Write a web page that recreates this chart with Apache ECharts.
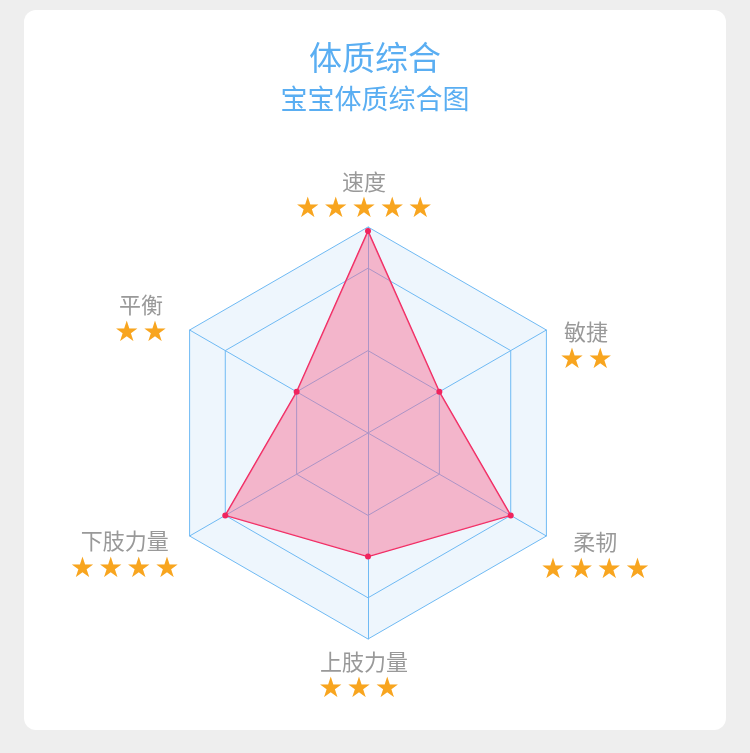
<!DOCTYPE html>
<html>
<head>
<meta charset="utf-8">
<script src="https://cdn.jsdelivr.net/npm/echarts@6/dist/echarts.min.js"></script>
<style>
html,body{margin:0;padding:0;background:#eeeeee;}
#chart{width:750px;height:753px;}
</style>
</head>
<body>
<div id="chart"></div>
<script>
var indicatorNames = ['速度', '平衡', '下肢力量', '上肢力量', '柔韧', '敏捷'];
var indicatorMax = 5;
var values = [4.9, 2, 4, 3, 4, 2];
var starCounts = [5, 2, 4, 3, 4, 2];
var titleText = '体质综合';
var subtitleText = '宝宝体质综合图';

var chart = echarts.init(document.getElementById('chart'));
var FONT = '"Noto Sans CJK SC", "Noto Sans", sans-serif';

// per-indicator label layout tweaks (layout only)
var nameHPad = [[0, 8, 0, 0], [0, 30, 0, 0], [0, 18, 0, 0], [0, 8, 0, 0], [0, 0, 0, 2], [0, 0, 0, 21]];
var starHPad = [[0, 8, 0, 0], [0, 30, 0, 0], [0, 18, 0, 0], [0, 18, 0, 0], [0, 0, 0, 2], [0, 0, 0, 21]];
var spaceTop = [0, 0, 43, 18, 45, 21];
var spaceBottom = [16, 33, 0, 0, 0, 0];

function starsFor(i) {
  var arr = [];
  for (var k = 0; k < starCounts[i]; k++) arr.push('★');
  return arr.join(' ');
}

var rich = {};
indicatorNames.forEach(function (n, i) {
  rich['n' + i] = { color: '#999999', fontSize: 22, fontFamily: FONT, align: 'center', lineHeight: 25, padding: nameHPad[i] };
  rich['s' + i] = { color: '#f8a51f', fontSize: 23, fontFamily: FONT, align: 'center', lineHeight: 25, padding: starHPad[i] };
  rich['t' + i] = { fontSize: 1, lineHeight: spaceTop[i], align: 'center' };
  rich['b' + i] = { fontSize: 1, lineHeight: spaceBottom[i], align: 'center' };
});

var option = {
  backgroundColor: '#eeeeee',
  graphic: [{
    type: 'rect', z: -10, silent: true,
    shape: { x: 24, y: 10, width: 702, height: 720, r: 12 },
    style: { fill: '#ffffff' }
  }],
  title: {
    text: titleText,
    subtext: subtitleText,
    left: 'center',
    top: 36,
    itemGap: 11,
    textStyle: { color: '#5aaef2', fontSize: 33, fontWeight: 'normal', fontFamily: FONT },
    subtextStyle: { color: '#5aaef2', fontSize: 27, fontFamily: FONT }
  },
  radar: [{
    center: [368, 433],
    radius: 206,
    startAngle: 90,
    splitNumber: 1,
    shape: 'polygon',
    indicator: indicatorNames.map(function (n) { return { name: n, max: indicatorMax, min: 0 }; }),
    axisName: {
      formatter: function (name) {
        var i = indicatorNames.indexOf(name);
        var s = '{n' + i + '|' + name + '}\n{s' + i + '|' + starsFor(i) + '}';
        if (spaceTop[i]) s = '{t' + i + '| }\n' + s;
        if (spaceBottom[i]) s = s + '\n{b' + i + '| }';
        return s;
      },
      rich: rich
    },
    nameGap: -8,
    axisLine: { lineStyle: { color: '#6fbaf4', width: 1 } },
    splitLine: { lineStyle: { color: '#6fbaf4', width: 1 } },
    splitArea: { show: true, areaStyle: { color: ['#eef6fd'] } }
  }, {
    center: [368, 433],
    radius: 206 * 4 / 5,
    startAngle: 90,
    splitNumber: 2,
    shape: 'polygon',
    indicator: indicatorNames.map(function (n) { return { name: n, max: 4, min: 0 }; }),
    axisName: { show: false },
    axisLine: { show: false },
    splitLine: { lineStyle: { color: '#6fbaf4', width: 1 } },
    splitArea: { show: false }
  }],
  series: [{
    type: 'radar',
    radarIndex: 0,
    symbol: 'circle',
    symbolSize: 6,
    itemStyle: { color: '#f0245e' },
    lineStyle: { color: '#f0245e', width: 1.5 },
    areaStyle: { color: '#f9668e', opacity: 0.45 },
    data: [{ value: values, name: titleText }]
  }]
};
chart.setOption(option);
</script>
</body>
</html>
